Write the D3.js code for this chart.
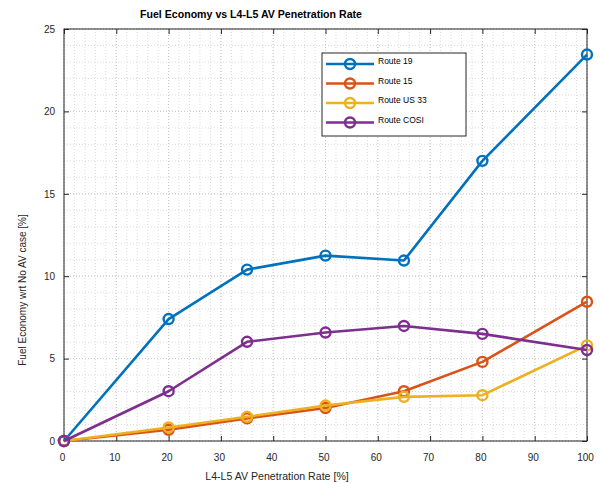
<!DOCTYPE html>
<html>
<head>
<meta charset="utf-8">
<script src="https://cdn.jsdelivr.net/npm/d3@7"></script>
<style>
  html, body { margin: 0; padding: 0; background: #fff; }
  svg { display: block; font-family: "Liberation Sans", Arial, sans-serif; }
</style>
</head>
<body>
<svg id="chart" width="600" height="483"></svg>
<script>
const penetration = [0, 20, 35, 50, 65, 80, 100];
const route19 = [0, 7.4, 10.4, 11.25, 10.95, 17.0, 23.45];
const route15 = [0, 0.68, 1.37, 2.0, 3.02, 4.8, 8.45];
const routeUS33 = [0, 0.82, 1.47, 2.15, 2.68, 2.78, 5.8];
const routeCOSI = [0, 3.02, 6.02, 6.58, 6.98, 6.5, 5.52];
const seriesNames = ["Route 19", "Route 15", "Route US 33", "Route COSI"];
const seriesColors = ["#0072BD", "#D95319", "#EDB120", "#7E2F8E"];
const xTicks = [0, 10, 20, 30, 40, 50, 60, 70, 80, 90, 100];
const yTicks = [0, 5, 10, 15, 20, 25];

const series = [route19, route15, routeUS33, routeCOSI];

const svg = d3.select("#chart");
const L = 64, R = 587, T = 29, B = 441;
const x = d3.scaleLinear().domain([0, 100]).range([L, R]);
const y = d3.scaleLinear().domain([0, 25]).range([B, T]);
const axisColor = "#262626";

// minor grid
const g = svg.append("g");
g.selectAll("line.mx").data(d3.range(0, 101, 2)).enter().append("line")
  .attr("x1", d => x(d)).attr("x2", d => x(d)).attr("y1", T).attr("y2", B)
  .attr("stroke", "#dcdcdc").attr("stroke-width", 1).attr("stroke-dasharray", "1,2");
g.selectAll("line.my").data(d3.range(0, 26, 1)).enter().append("line")
  .attr("y1", d => y(d)).attr("y2", d => y(d)).attr("x1", L).attr("x2", R)
  .attr("stroke", "#dcdcdc").attr("stroke-width", 1).attr("stroke-dasharray", "1,2");
// major grid
g.selectAll("line.Mx").data(xTicks).enter().append("line")
  .attr("x1", d => x(d)).attr("x2", d => x(d)).attr("y1", T).attr("y2", B)
  .attr("stroke", "#c8c8c8").attr("stroke-width", 1).attr("stroke-dasharray", "1,2");
g.selectAll("line.My").data(yTicks).enter().append("line")
  .attr("y1", d => y(d)).attr("y2", d => y(d)).attr("x1", L).attr("x2", R)
  .attr("stroke", "#c8c8c8").attr("stroke-width", 1).attr("stroke-dasharray", "1,2");

function styleAxis(sel) {
  sel.select(".domain").remove();
  sel.selectAll(".tick line").attr("stroke", axisColor).attr("stroke-width", 1);
  sel.selectAll(".tick text").attr("fill", axisColor).style("font-size", "10px")
    .style("font-family", "Liberation Sans, Arial, sans-serif");
}
// bottom tick labels (slightly left of ticks as in reference)
svg.append("g").attr("transform", `translate(-2,${B})`)
  .call(d3.axisBottom(x).tickValues(xTicks).tickSize(0).tickPadding(13).tickFormat(d3.format("d")))
  .call(styleAxis);
// tick marks, inward on all four sides
svg.append("g").attr("transform", `translate(0,${B})`)
  .call(d3.axisBottom(x).tickValues(xTicks).tickSize(-5).tickFormat("")).call(styleAxis);
svg.append("g").attr("transform", `translate(${L},0)`)
  .call(d3.axisLeft(y).tickValues(yTicks).tickSize(-5).tickPadding(9).tickFormat(d3.format("d")))
  .call(styleAxis);
svg.append("g").attr("transform", `translate(0,${T})`)
  .call(d3.axisTop(x).tickValues(xTicks).tickSize(-5).tickFormat("")).call(styleAxis);
svg.append("g").attr("transform", `translate(${R},0)`)
  .call(d3.axisRight(y).tickValues(yTicks).tickSize(-5).tickFormat("")).call(styleAxis);

svg.append("rect").attr("x", L).attr("y", T).attr("width", R - L).attr("height", B - T)
  .attr("fill", "none").attr("stroke", axisColor).attr("stroke-width", 1);

// lines
const line = d3.line().x((d, i) => x(penetration[i])).y(d => y(d));
series.forEach((s, k) => {
  svg.append("path").datum(s).attr("d", line).attr("fill", "none")
    .attr("stroke", seriesColors[k]).attr("stroke-width", 2.6).attr("stroke-linejoin", "round");
  svg.append("g").selectAll("circle").data(s).enter().append("circle")
    .attr("cx", (d, i) => x(penetration[i])).attr("cy", d => y(d)).attr("r", 5)
    .attr("fill", "none").attr("stroke", seriesColors[k]).attr("stroke-width", 2.4);
});

// title and axis labels
svg.append("text").attr("x", 251).attr("y", 18).attr("text-anchor", "middle")
  .style("font-size", "10.6px").style("font-weight", "bold").attr("fill", "#000")
  .text("Fuel Economy vs L4-L5 AV Penetration Rate");
svg.append("text").attr("x", 277).attr("y", 480).attr("text-anchor", "middle")
  .style("font-size", "10.6px").attr("fill", axisColor)
  .text("L4-L5 AV Penetration Rate [%]");
svg.append("text").attr("transform", "translate(26,290) rotate(-90)").attr("text-anchor", "middle")
  .style("font-size", "10px").attr("fill", axisColor)
  .text("Fuel Economy wrt No AV case [%]");

// legend
const lg = svg.append("g");
lg.append("rect").attr("x", 322).attr("y", 53).attr("width", 144).attr("height", 83)
  .attr("fill", "#fff").attr("stroke", axisColor).attr("stroke-width", 1);
seriesNames.forEach((name, k) => {
  const ly = 64 + k * 19.5;
  lg.append("line").attr("x1", 326).attr("x2", 374).attr("y1", ly).attr("y2", ly)
    .attr("stroke", seriesColors[k]).attr("stroke-width", 2.6);
  lg.append("circle").attr("cx", 350).attr("cy", ly).attr("r", 5)
    .attr("fill", "none").attr("stroke", seriesColors[k]).attr("stroke-width", 2.4);
  lg.append("text").attr("x", 378).attr("y", ly).style("font-size", "8.5px")
    .attr("fill", "#000").text(name);
});
</script>
</body>
</html>
